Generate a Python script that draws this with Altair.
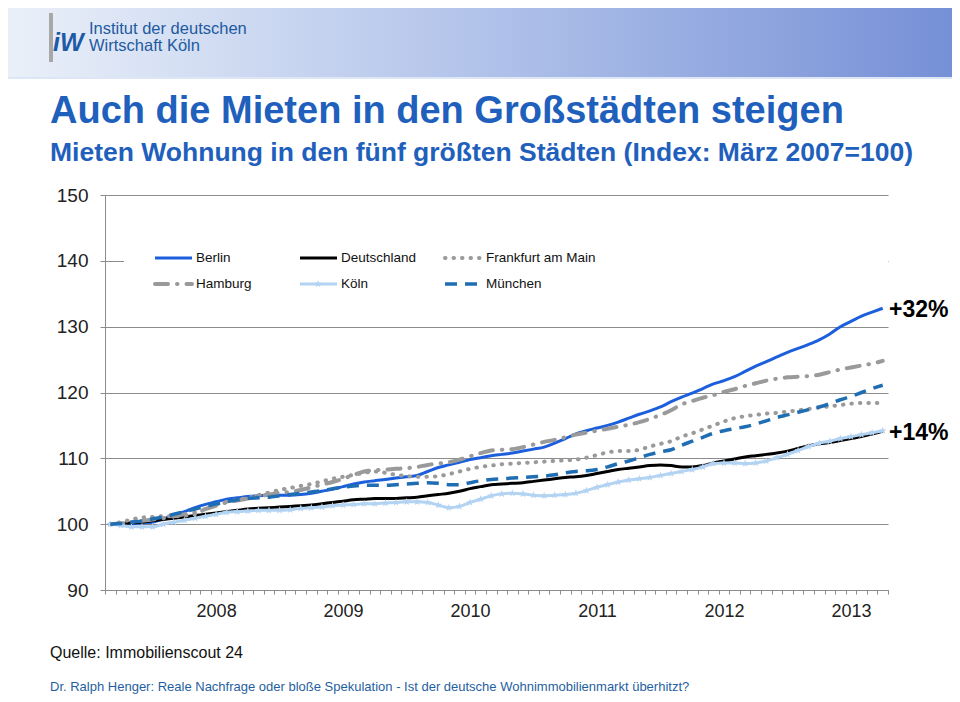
import altair as alt
import pandas as pd

# ---------------- data (index 0 = März 2007 ... 73 = April 2013) ----------------
months = list(range(74))
year_labels = ["2008", "2009", "2010", "2011", "2012", "2013"]
year_start_index = [10, 22, 34, 46, 58, 70]
y_ticks = [90, 100, 110, 120, 130, 140, 150]

berlin = [100.0, 100.0, 100.1, 100.2, 100.3, 100.8, 101.4, 101.9, 102.5, 103.0,
          103.4, 103.8, 104.0, 104.2, 104.3, 104.4, 104.4, 104.4, 104.5, 104.7,
          105.0, 105.3, 105.7, 106.1, 106.4, 106.6, 106.8, 107.0, 107.2, 107.4,
          108.0, 108.6, 109.0, 109.4, 109.8, 110.1, 110.4, 110.6, 110.8, 111.1,
          111.4, 111.7, 112.3, 113.0, 113.7, 114.2, 114.6, 115.0, 115.5, 116.1,
          116.7, 117.2, 117.8, 118.6, 119.3, 119.9, 120.6, 121.3, 121.8, 122.4,
          123.2, 124.0, 124.7, 125.4, 126.1, 126.7, 127.3, 128.0, 128.9, 130.0,
          130.8, 131.6, 132.2, 132.8]
deutschland = [100.0, 100.1, 100.2, 100.3, 100.5, 100.7, 100.9, 101.1, 101.3, 101.5,
               101.7, 101.9, 102.1, 102.3, 102.4, 102.5, 102.6, 102.7, 102.8, 102.9,
               103.1, 103.3, 103.5, 103.7, 103.8, 103.9, 103.9, 103.9, 104.0, 104.1,
               104.3, 104.5, 104.7, 105.0, 105.4, 105.7, 106.0, 106.1, 106.2, 106.3,
               106.5, 106.7, 106.9, 107.1, 107.2, 107.4, 107.7, 108.0, 108.3, 108.5,
               108.7, 108.9, 109.0, 108.9, 108.7, 108.7, 108.9, 109.3, 109.6, 109.9,
               110.2, 110.4, 110.6, 110.8, 111.1, 111.5, 111.9, 112.2, 112.4, 112.7,
               113.0, 113.3, 113.7, 114.1]
frankfurt = [100.0, 100.3, 100.7, 101.0, 101.1, 101.2, 101.2, 101.3, 101.5, 102.3,
             103.0, 103.4, 103.7, 104.0, 104.4, 104.8, 105.2, 105.5, 105.8, 106.1,
             106.5, 106.9, 107.2, 107.5, 107.8, 108.0, 107.8, 107.5, 107.3, 107.2,
             107.2, 107.3, 107.6, 108.0, 108.4, 108.7, 108.9, 109.1, 109.2, 109.3,
             109.4, 109.5, 109.6, 109.7, 109.8, 110.1, 110.5, 110.9, 111.1, 111.1,
             111.3, 111.8, 112.2, 112.6, 113.3, 113.8, 114.4, 115.0, 115.6, 116.1,
             116.4, 116.6, 116.8, 116.9, 117.1, 117.3, 117.5, 117.7, 117.9, 118.1,
             118.3, 118.4, 118.4, 118.4]
hamburg = [100.0, 100.1, 100.3, 100.5, 100.7, 100.9, 101.2, 101.5, 101.8, 102.3,
           102.8, 103.3, 103.6, 103.9, 104.2, 104.5, 104.8, 104.9, 105.2, 105.6,
           106.0, 106.4, 106.9, 107.5, 108.0, 108.2, 108.3, 108.4, 108.5, 108.7,
           109.0, 109.2, 109.4, 109.8, 110.3, 110.8, 111.2, 111.3, 111.4, 111.7,
           112.1, 112.5, 112.8, 113.2, 113.6, 113.9, 114.2, 114.5, 114.8, 115.1,
           115.5, 116.0, 116.6, 117.3, 118.2, 118.7, 119.2, 119.6, 120.1, 120.5,
           121.0, 121.4, 121.8, 122.1, 122.3, 122.4, 122.5, 122.7, 123.1, 123.5,
           123.8, 124.1, 124.4, 124.8]
koeln = [100.0, 99.8, 99.6, 99.6, 99.6, 100.0, 100.3, 100.6, 100.9, 101.2,
         101.5, 101.8, 101.9, 102.0, 102.1, 102.1, 102.1, 102.2, 102.4, 102.5,
         102.6, 102.8, 102.9, 103.0, 103.1, 103.1, 103.2, 103.3, 103.4, 103.4,
         103.3, 102.9, 102.5, 102.7, 103.3, 103.8, 104.3, 104.6, 104.7, 104.6,
         104.4, 104.3, 104.4, 104.5, 104.7, 105.1, 105.6, 106.0, 106.4, 106.7,
         106.9, 107.1, 107.4, 107.7, 108.0, 108.3, 108.7, 109.2, 109.3, 109.3,
         109.2, 109.3, 109.6, 110.1, 110.6, 111.2, 111.8, 112.3, 112.6, 113.0,
         113.3, 113.6, 113.9, 114.2]
muenchen = [100.0, 100.1, 100.3, 100.5, 100.8, 101.1, 101.5, 101.9, 102.3, 102.7,
            103.1, 103.4, 103.7, 103.9, 104.0, 104.1, 104.3, 104.5, 104.7, 104.9,
            105.1, 105.4, 105.6, 105.8, 105.9, 105.9, 105.9, 106.0, 106.1, 106.2,
            106.3, 106.2, 106.0, 106.0, 106.3, 106.6, 106.8, 106.9, 107.0, 107.1,
            107.2, 107.3, 107.5, 107.8, 108.0, 108.1, 108.3, 108.7, 109.2, 109.6,
            110.1, 110.6, 111.0, 111.3, 112.0, 112.6, 113.2, 113.8, 114.2, 114.5,
            114.8, 115.2, 115.7, 116.2, 116.6, 117.0, 117.4, 117.8, 118.3, 118.9,
            119.4, 120.0, 120.6, 121.1]

cities = ["Berlin", "Deutschland", "Frankfurt am Main", "Hamburg", "Köln", "München"]

# ---------------- texts ----------------
logo_line1 = "Institut der deutschen"
logo_line2 = "Wirtschaft Köln"
title_text = "Auch die Mieten in den Großstädten steigen"
subtitle_text = "Mieten Wohnung in den fünf größten Städten (Index: März 2007=100)"
note_32 = "+32%"
note_14 = "+14%"
source_text = "Quelle: Immobilienscout 24"
footer_text = ("Dr. Ralph Henger: Reale Nachfrage oder bloße Spekulation - "
               "Ist der deutsche Wohnimmobilienmarkt überhitzt?")

FONT = "Liberation Sans"
BLUE_T = "#1f60bd"
GRAY_AX = "#8c8c8c"

STAR = ("M0,-1L0.235,-0.324L0.951,-0.309L0.38,0.124L0.588,0.809L0,0.4"
        "L-0.588,0.809L-0.38,0.124L-0.951,-0.309L-0.235,-0.324Z")

styles = {
    "Berlin": dict(color="#1c5fdc", strokeWidth=3, strokeCap="butt"),
    "Deutschland": dict(color="#000000", strokeWidth=3, strokeCap="butt"),
    "Frankfurt am Main": dict(color="#9a9a9a", strokeWidth=4, strokeCap="round", strokeDash=[0.5, 8]),
    "Hamburg": dict(color="#9a9a9a", strokeWidth=4, strokeCap="round", strokeDash=[13, 9, 0.5, 9]),
    "Köln": dict(color="#b3d3f2", strokeWidth=3, strokeCap="butt"),
    "München": dict(color="#1f6db3", strokeWidth=3.5, strokeCap="butt", strokeDash=[12, 8]),
}
series = dict(zip(cities, [berlin, deutschland, frankfurt, hamburg, koeln, muenchen]))

label_expr = " : ".join(
    f"datum.value == {s - 0.5} ? '{lab}'" for s, lab in zip(year_start_index, year_labels)
) + " : ''"

X = alt.X(
    "i:Q",
    scale=alt.Scale(domain=[-0.5, 73.5], nice=False, zero=False),
    axis=alt.Axis(
        values=[k - 0.5 for k in range(75)], labelExpr=label_expr, labelOffset=5.3,
        labelFlush=False, labelOverlap=False, labelBound=False, grid=False,
        tickSize=4, tickColor=GRAY_AX, domainColor=GRAY_AX, labelFont=FONT,
        labelFontSize=18, labelColor="#222222", labelPadding=8, title=None,
    ),
)
Y = alt.Y(
    "v:Q",
    scale=alt.Scale(domain=[90, 150], nice=False, zero=False),
    axis=alt.Axis(
        values=y_ticks, tickSize=5, tickColor=GRAY_AX, domainColor=GRAY_AX,
        grid=True, gridColor=GRAY_AX, gridWidth=1, labelFont=FONT, labelFontSize=19,
        labelColor="#222222", labelPadding=12, title=None,
    ),
)

one = pd.DataFrame({"k": [0]})


def text(t, x, y, size, weight="normal", color="#000000", font=FONT, align="left",
         baseline="middle", style="normal"):
    return alt.Chart(one).mark_text(
        align=align, baseline=baseline, font=font, fontSize=size, fontWeight=weight,
        color=color, fontStyle=style,
    ).encode(x=alt.value(x), y=alt.value(y), text=alt.value(t))


layers = []

# header band with gradient
grad = alt.LinearGradient(
    gradient="linear", x1=0, x2=1, y1=0, y2=0,
    stops=[alt.GradientStop(offset=0, color="#eaf0f9"),
           alt.GradientStop(offset=0.5, color="#b2c3ea"),
           alt.GradientStop(offset=1, color="#7690d6")],
)
layers.append(alt.Chart(one).mark_rect(fill=grad).encode(
    x=alt.value(-97), x2=alt.value(847), y=alt.value(-187), y2=alt.value(-117)))
layers.append(alt.Chart(one).mark_rect(fill="#dce6f5").encode(
    x=alt.value(-97), x2=alt.value(847), y=alt.value(-118), y2=alt.value(-116)))
# logo
layers.append(alt.Chart(one).mark_rect(fill="#a8a8a8").encode(
    x=alt.value(-56), x2=alt.value(-52), y=alt.value(-182), y2=alt.value(-133)))
layers.append(text("iW", -52, -144, 25, weight="bold", color="#1e5aa6",
                   baseline="alphabetic", style="italic"))
layers.append(text(logo_line1, -16, -161, 16.5, color="#1e5aa0", baseline="alphabetic"))
layers.append(text(logo_line2, -16, -144, 16.5, color="#1e5aa0", baseline="alphabetic"))
# titles
layers.append(text(title_text, -55, -72, 38, weight="bold", color=BLUE_T, baseline="alphabetic"))
layers.append(text(subtitle_text, -55, -34, 26.5, weight="bold", color=BLUE_T, baseline="alphabetic"))

# white legend box (covers grid line behind legend)
layers.append(alt.Chart(one).mark_rect(fill="white").encode(
    x=alt.value(19), x2=alt.value(783), y=alt.value(40), y2=alt.value(106)))

# series lines
for c in cities:
    df = pd.DataFrame({"i": months, "v": series[c]})
    st = styles[c]
    layers.append(alt.Chart(df).mark_line(interpolate="monotone", **st).encode(x=X, y=Y))
    if c == "Köln":
        layers.append(alt.Chart(df).mark_point(
            shape=STAR, filled=True, size=65, color=st["color"], opacity=1
        ).encode(x=X, y=Y))

# legend
leg_pos = {
    "Berlin": (50, 63), "Deutschland": (195, 63), "Frankfurt am Main": (340, 63),
    "Hamburg": (50, 89), "Köln": (195, 89), "München": (340, 89),
}
for c in cities:
    x0, y0 = leg_pos[c]
    st = styles[c]
    layers.append(alt.Chart(one).mark_rule(**st).encode(
        x=alt.value(x0), x2=alt.value(x0 + 37), y=alt.value(y0)))
    if c == "Köln":
        layers.append(alt.Chart(one).mark_point(
            shape=STAR, filled=True, size=65, color=st["color"], opacity=1
        ).encode(x=alt.value(x0 + 18), y=alt.value(y0)))
    layers.append(text(c, x0 + 41, y0, 13.5, color="#111111"))

# annotations
layers.append(text(note_32, 784, 115, 23, weight="bold"))
layers.append(text(note_14, 784, 238, 23, weight="bold"))

# source & footer
layers.append(text(source_text, -55, 458, 16, color="#111111"))
layers.append(text(footer_text, -55, 492, 13, color="#1f5f9f"))

chart = alt.layer(*layers).properties(
    width=783, height=395,
    padding={"left": 97, "top": 187, "right": 64, "bottom": 104},
    autosize=alt.AutoSizeParams(type="none"),
    background="white",
).configure_view(strokeWidth=0)

chart.save("out.html", embed_options={"renderer": "svg", "actions": False})
